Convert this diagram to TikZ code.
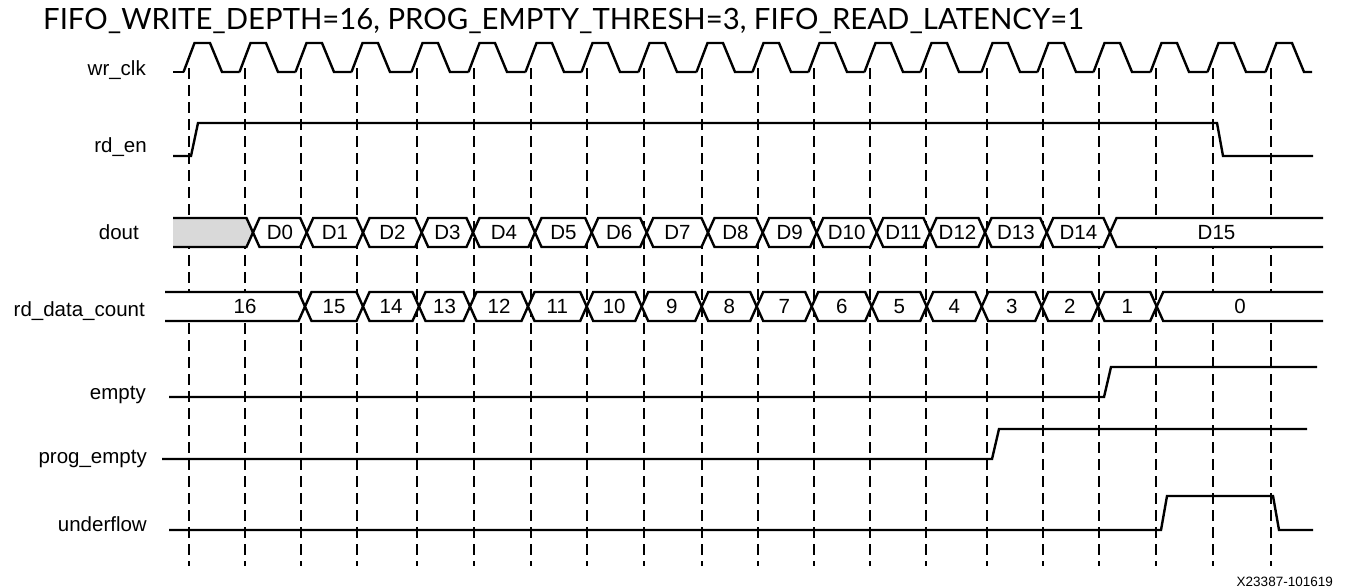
\documentclass[tikz,border=0pt]{standalone}
\usepackage{fontspec}
\setmainfont{Liberation Sans}
\newfontfamily\titlefont{Lato}
\definecolor{busgray}{RGB}{217,217,217}
\tikzset{
  sig/.style={line width=2.4pt, line join=miter},
  grid/.style={line width=1.1pt, dash pattern=on 11pt off 6pt},
  lbl/.style={anchor=base east, inner sep=0pt, font=\fontsize{20.5}{22}\selectfont},
  val/.style={inner sep=0pt, font=\fontsize{20.5}{22}\selectfont},
}
\begin{document}
\begin{tikzpicture}[x=1pt,y=-1pt]
\useasboundingbox (0,0) rectangle (1356,587);
% title
\node[anchor=base west, inner sep=0pt, font=\titlefont\fontsize{29.3}{31}\selectfont] (title) at (43,29.5) {FIFO\_WRITE\_DEPTH=16, PROG\_EMPTY\_THRESH=3, FIFO\_READ\_LATENCY=1};
% dashed clock-edge lines
\foreach \x [count=\i] in {189,245,301,357,417,474,531,587,644,702,758,814,870,926,987,1043,1099,1156,1213,1271}
  \draw[grid] (\x,68) coordinate (t\i) -- (\x,566);
% labels
\node[lbl] (l-clk) at (146,75) {wr\_clk};
\node[lbl] (l-rden) at (147,152) {rd\_en};
\node[lbl] (l-dout) at (139,239) {dout};
\node[lbl] (l-cnt) at (145,316.5) {rd\_data\_count};
\node[lbl] (l-empty) at (146,399) {empty};
\node[lbl] (l-pe) at (147,463) {prog\_empty};
\node[lbl] (l-uf) at (147,531) {underflow};
% wr_clk
\draw[sig] (173,72) -- (183.5,72);
\foreach \x/\n in {189/245,245/301,301/357,357/417,417/474,474/531,531/587,587/644,644/702,702/758,758/814,814/870,870/926,926/987,987/1043,1043/1099,1099/1156,1156/1213,1213/1271,1271/1317.5}
  \draw[sig] (\x-5.5,72) -- (\x+5.5,43) -- (\x+21,43) -- (\x+33,72) -- (\n-5.5,72);
% rd_en
\draw[sig] (173,156) -- (191,156) -- (198,123) -- (1217,123) -- (1223,156) -- (1313,156);
% dout
\fill[busgray] (173,218) -- (246.5,218) -- (253,232.5) -- (246.5,247) -- (173,247) -- cycle;
\draw[sig] (173,218) -- (246.5,218) -- (253,232.5) -- (246.5,247) -- (173,247);
\foreach \a/\b/\t in {253/306.7/D0,306.7/363/D1,363/421.7/D2,421.7/473/D3,473/535/D4,535/591.7/D5,591.7/646.7/D6,646.7/708/D7,708/762.7/D8,762.7/816.7/D9,816.7/876.7/D10,876.7/930/D11,930/985/D12,985/1046.7/D13,1046.7/1110/D14}{
  \draw[sig, fill=white] (\a,232.5) -- (\a+6.5,218) -- (\b-6.5,218) -- (\b,232.5) -- (\b-6.5,247) -- (\a+6.5,247) -- cycle;
  \node[val] (dout-\t) at ({(\a+\b)/2},232.5) {\t};
}
\fill[white] (1110,232.5) -- (1116.5,218) -- (1323,218) -- (1323,247) -- (1116.5,247) -- cycle;
\draw[sig] (1323,218) -- (1116.5,218) -- (1110,232.5) -- (1116.5,247) -- (1323,247);
\node[val] (dout-D15) at (1216.5,232.5) {D15};
% rd_data_count
\fill[white] (165,292) -- (298.5,292) -- (305,306.5) -- (298.5,321) -- (165,321) -- cycle;
\draw[sig] (165,292) -- (298.5,292) -- (305,306.5) -- (298.5,321) -- (165,321);
\node[val] (cnt-16) at (245,306.5) {16};
\foreach \a/\b/\t in {305/363/15,363/419/14,419/470/13,470/528/12,528/586.7/11,586.7/641.7/10,641.7/701.7/9,701.7/756.7/8,756.7/811.7/7,811.7/871.7/6,871.7/926.7/5,926.7/981.7/4,981.7/1041.7/3,1041.7/1098/2,1098/1156.7/1}{
  \draw[sig, fill=white] (\a,306.5) -- (\a+6.5,292) -- (\b-6.5,292) -- (\b,306.5) -- (\b-6.5,321) -- (\a+6.5,321) -- cycle;
  \node[val] (cnt-\t) at ({(\a+\b)/2},306.5) {\t};
}
\fill[white] (1156.7,306.5) -- (1163.2,292) -- (1323,292) -- (1323,321) -- (1163.2,321) -- cycle;
\draw[sig] (1323,292) -- (1163.2,292) -- (1156.7,306.5) -- (1163.2,321) -- (1323,321);
\node[val] (cnt-0) at (1240,306.5) {0};
% empty
\draw[sig] (169,397) -- (1104,397) -- (1111,367) -- (1317,367);
% prog_empty
\draw[sig] (162,459) -- (992,459) -- (999,429) -- (1307,429);
% underflow
\draw[sig] (169,530) -- (1161,530) -- (1167,496) -- (1273,496) -- (1279,530) -- (1313,530);
% figure id
\node[anchor=base east, inner sep=0pt, font=\fontsize{13.5}{15}\selectfont] (figid) at (1333,586) {X23387-101619};
\end{tikzpicture}
\end{document}
